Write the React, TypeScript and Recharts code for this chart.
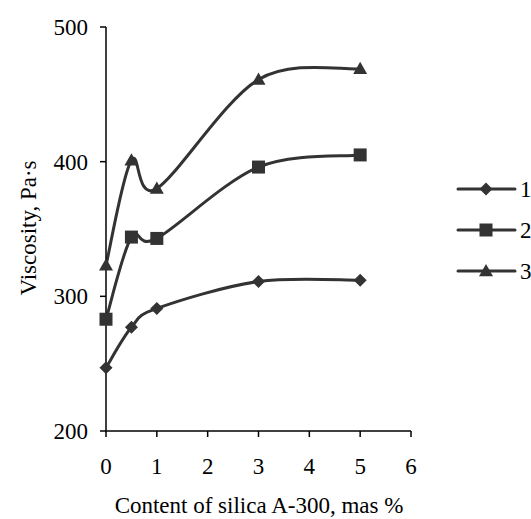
import React from "react";
import { LineChart, Line, XAxis, YAxis, Legend, Label } from "recharts";

// ---- data ----
const silicaContent = [0, 0.5, 1, 3, 5];
const series1 = [247, 277, 291, 311, 312];
const series2 = [283, 344, 343, 396, 405];
const series3 = [323, 401, 380, 461, 469];
const seriesNames = ["1", "2", "3"];
const xTicks = [0, 1, 2, 3, 4, 5, 6];
const yTicks = [200, 300, 400, 500];
const xLabel = "Content of silica A-300, mas %";
const yLabel = "Viscosity, Pa·s";

const data = silicaContent.map((x, i) => ({
  x,
  s1: series1[i],
  s2: series2[i],
  s3: series3[i],
}));

const COLOR = "#333333";
const FONT = "'Liberation Serif', 'Times New Roman', serif";
const FS = 23;

// Excel-like smoothed line (Catmull-Rom through points)
function smoothCurve(context: any) {
  let pts: number[][] = [];
  return {
    areaStart() {},
    areaEnd() {},
    lineStart() {
      pts = [];
    },
    point(x: number, y: number) {
      pts.push([+x, +y]);
    },
    lineEnd() {
      const n = pts.length;
      if (!n) return;
      context.moveTo(pts[0][0], pts[0][1]);
      for (let i = 0; i < n - 1; i++) {
        const p0 = pts[Math.max(i - 1, 0)];
        const p1 = pts[i];
        const p2 = pts[i + 1];
        const p3 = pts[Math.min(i + 2, n - 1)];
        const c1x = p1[0] + (p2[0] - p0[0]) / 6;
        const c1y = p1[1] + (p2[1] - p0[1]) / 6;
        const c2x = p2[0] - (p3[0] - p1[0]) / 6;
        const c2y = p2[1] - (p3[1] - p1[1]) / 6;
        context.bezierCurveTo(c1x, c1y, c2x, c2y, p2[0], p2[1]);
      }
    },
  };
}

function Marker({ kind, cx, cy }: { kind: number; cx: number; cy: number }) {
  if (kind === 0) {
    const r = 6.5;
    return (
      <polygon
        points={`${cx},${cy - r} ${cx + r},${cy} ${cx},${cy + r} ${cx - r},${cy}`}
        fill={COLOR}
      />
    );
  }
  if (kind === 1) {
    const s = 6.5;
    return <rect x={cx - s} y={cy - s} width={2 * s} height={2 * s} fill={COLOR} />;
  }
  const h = 7;
  return (
    <polygon
      points={`${cx},${cy - h} ${cx + h},${cy + h * 0.75} ${cx - h},${cy + h * 0.75}`}
      fill={COLOR}
    />
  );
}

const makeDot = (kind: number) => (props: any) => {
  const { cx, cy, index } = props;
  if (cx == null || cy == null) return <g key={index} />;
  return <Marker key={index} kind={kind} cx={cx} cy={cy} />;
};

function LegendContent() {
  return (
    <svg width={76} height={110} style={{ display: "block", overflow: "visible" }}>
      {seriesNames.map((name, i) => {
        const y = 11 + i * 41;
        return (
          <g key={name}>
            <line x1={3} x2={60} y1={y} y2={y} stroke={COLOR} strokeWidth={3} strokeLinecap="round" />
            <Marker kind={i} cx={31} cy={y} />
            <text x={65} y={y + 8} fontFamily={FONT} fontSize={FS} fill="#000">
              {name}
            </text>
          </g>
        );
      })}
    </svg>
  );
}

export default function App() {
  return (
    <div style={{ width: 531, height: 519, background: "#fff", position: "relative" }}>
      <style>{"body{margin:0;overflow:hidden;background:#fff}"}</style>
      <LineChart
        width={531}
        height={519}
        data={data}
        margin={{ top: 27, right: 120, left: 0, bottom: 0 }}
        style={{ fontFamily: FONT }}
      >
        <XAxis
          dataKey="x"
          type="number"
          domain={[0, 6]}
          ticks={xTicks}
          interval={0}
          height={88}
          tickSize={6}
          tickMargin={21}
          stroke="#000"
          strokeWidth={1.5}
          tick={{ fill: "#000", fontSize: FS, fontFamily: FONT }}
        >
          <Label
            content={() => (
              <text x={259} y={513} textAnchor="middle" fontFamily={FONT} fontSize={FS} fill="#000">
                {xLabel}
              </text>
            )}
          />
        </XAxis>
        <YAxis
          type="number"
          domain={[200, 500]}
          ticks={yTicks}
          interval={0}
          width={106}
          tickSize={6}
          tickMargin={12}
          stroke="#000"
          strokeWidth={1.5}
          tick={{ fill: "#000", fontSize: FS, fontFamily: FONT }}
        >
          <Label
            content={() => (
              <text
                x={0}
                y={0}
                transform="translate(36,228) rotate(-90)"
                textAnchor="middle"
                fontFamily={FONT}
                fontSize={FS}
                fill="#000"
              >
                {yLabel}
              </text>
            )}
          />
        </YAxis>
        <Legend
          layout="vertical"
          align="center"
          verticalAlign="middle"
          content={() => <LegendContent />}
          wrapperStyle={{ position: "absolute", left: 455, top: 178, width: 76, height: 110 }}
        />
        <Line
          dataKey="s1"
          name={seriesNames[0]}
          type={smoothCurve as any}
          stroke={COLOR}
          strokeWidth={3}
          dot={makeDot(0)}
          activeDot={false}
          isAnimationActive={false}
        />
        <Line
          dataKey="s2"
          name={seriesNames[1]}
          type={smoothCurve as any}
          stroke={COLOR}
          strokeWidth={3}
          dot={makeDot(1)}
          activeDot={false}
          isAnimationActive={false}
        />
        <Line
          dataKey="s3"
          name={seriesNames[2]}
          type={smoothCurve as any}
          stroke={COLOR}
          strokeWidth={3}
          dot={makeDot(2)}
          activeDot={false}
          isAnimationActive={false}
        />
      </LineChart>
    </div>
  );
}
